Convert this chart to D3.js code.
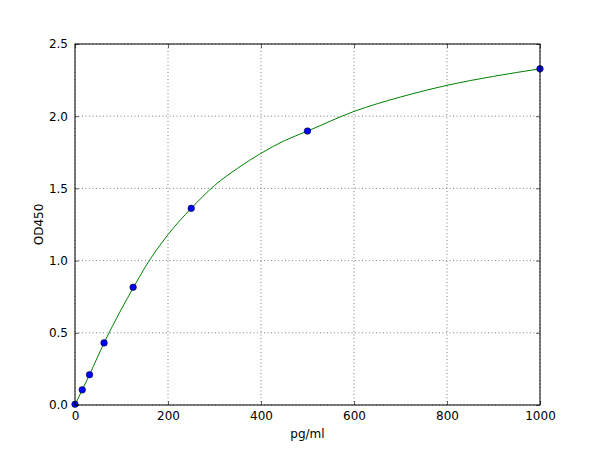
<!DOCTYPE html>
<html><head><meta charset="utf-8">
<script src="https://cdnjs.cloudflare.com/ajax/libs/d3/7.8.5/d3.min.js"></script>
<style>body{margin:0;background:#fff}svg{display:block}text{font-family:"DejaVu Sans",sans-serif;}</style>
</head><body>
<svg id="c" width="600" height="450"></svg>
<script>
const pointX = [0, 15.6, 31.25, 62.5, 125, 250, 500, 1000];
const pointY = [0.005, 0.105, 0.21, 0.43, 0.815, 1.362, 1.897, 2.328];
const curveX = [0, 15.6, 31.25, 62.5, 100, 125, 150, 200, 250, 300, 350, 400, 450, 500, 600, 700, 800, 900, 1000];
const curveY = [0.0, 0.105, 0.21, 0.43, 0.665, 0.81, 0.95, 1.18, 1.362, 1.52, 1.64, 1.743, 1.83, 1.897, 2.033, 2.133, 2.214, 2.276, 2.328];
const xTicks = [0, 200, 400, 600, 800, 1000];
const yTicks = [0.0, 0.5, 1.0, 1.5, 2.0, 2.5];

const svg = d3.select("#c");
const L = 75, R = 540, T = 44, B = 405;
const x = d3.scaleLinear().domain([0, 1000]).range([L, R]);
const y = d3.scaleLinear().domain([0, 2.5]).range([B, T]);

// grid
const g = svg.append("g");
g.selectAll(".gx").data(xTicks).enter().append("line")
  .attr("x1", d => x(d)).attr("x2", d => x(d)).attr("y1", T).attr("y2", B)
  .attr("stroke", "#000").attr("stroke-width", 0.5).attr("stroke-dasharray", "1,2.5");
g.selectAll(".gy").data(yTicks).enter().append("line")
  .attr("y1", d => y(d)).attr("y2", d => y(d)).attr("x1", L).attr("x2", R)
  .attr("stroke", "#000").attr("stroke-width", 0.5).attr("stroke-dasharray", "1,2.5");

// curve
const cdata = curveX.map((v, i) => [v, curveY[i]]);
svg.append("path").datum(cdata)
  .attr("d", d3.line().x(d => x(d[0])).y(d => y(d[1])).curve(d3.curveMonotoneX))
  .attr("fill", "none").attr("stroke", "#008000").attr("stroke-width", 1);

// points
const pdata = pointX.map((v, i) => [v, pointY[i]]);
svg.append("g").selectAll("circle").data(pdata).enter().append("circle")
  .attr("cx", d => x(d[0])).attr("cy", d => y(d[1])).attr("r", 3.3)
  .attr("fill", "#0000ff").attr("stroke", "#000").attr("stroke-width", 0.5);

// axes: inward ticks on all sides
const tl = 4;
const axB = svg.append("g").attr("transform", `translate(0,${B})`)
  .call(d3.axisBottom(x).tickValues(xTicks).tickSizeInner(-tl).tickSizeOuter(0).tickPadding(8).tickFormat(d3.format("d")));
const axT = svg.append("g").attr("transform", `translate(0,${T})`)
  .call(d3.axisTop(x).tickValues(xTicks).tickSizeInner(-tl).tickSizeOuter(0).tickFormat(""));
const axLft = svg.append("g").attr("transform", `translate(${L},0)`)
  .call(d3.axisLeft(y).tickValues(yTicks).tickSizeInner(-tl).tickSizeOuter(0).tickPadding(7).tickFormat(d3.format(".1f")));
const axRt = svg.append("g").attr("transform", `translate(${R},0)`)
  .call(d3.axisRight(y).tickValues(yTicks).tickSizeInner(-tl).tickSizeOuter(0).tickFormat(""));
[axB, axT, axLft, axRt].forEach(a => {
  a.select(".domain").remove();
  a.selectAll("line").attr("stroke", "#000").attr("stroke-width", 0.6);
  a.selectAll("text").attr("font-size", 12).attr("fill", "#000").attr("font-family", "DejaVu Sans");
});
axB.selectAll("text").attr("dy", "0.71em").attr("y", 6);

// frame
svg.append("rect").attr("x", L).attr("y", T).attr("width", R - L).attr("height", B - T)
  .attr("fill", "none").attr("stroke", "#000").attr("stroke-width", 1);

// labels
svg.append("text").attr("x", (L + R) / 2).attr("y", 438).attr("text-anchor", "middle")
  .attr("font-size", 12).text("pg/ml");
svg.append("text").attr("transform", `translate(43,${(T + B) / 2}) rotate(-90)`).attr("text-anchor", "middle")
  .attr("font-size", 12).text("OD450");
</script>
</body></html>
